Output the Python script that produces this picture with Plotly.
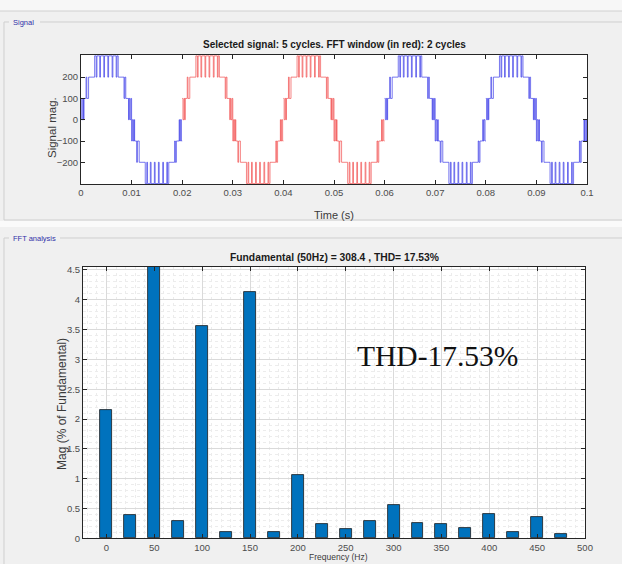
import plotly.graph_objects as go

# ---------------- data ----------------
# one positive half-cycle of the staircase (multilevel PWM) signal
# (time in ms from half-cycle start, level after the edge)
half_t_ms = [0.0, 0.15, 0.35, 0.5, 0.6, 1.0, 1.15, 1.5, 2.7,
             3.0, 3.15, 3.7, 3.85, 4.5, 4.65, 5.3, 5.45, 6.15, 6.3, 6.95, 7.1,
             7.35, 8.5, 8.65, 8.85, 9.4, 9.5, 9.65, 9.85]
half_level = [100, 0, 100, 0, 100, 200, 100, 200, 300,
              200, 300, 200, 300, 200, 300, 200, 300, 200, 300, 200, 300,
              200, 100, 200, 100, 0, 100, 0, 100]
period_ms = 20
cycle_colors = ["blue", "red", "red", "blue", "blue"]   # FFT window (2 cycles) in red

freq_hz = [0, 25, 50, 75, 100, 125, 150, 175, 200, 225, 250, 275, 300, 325, 350,
           375, 400, 425, 450, 475]
mag_pct = [2.15, 0.39, 100.0, 0.29, 3.56, 0.11, 4.13, 0.11, 1.06, 0.24, 0.16, 0.29,
           0.56, 0.25, 0.235, 0.18, 0.41, 0.11, 0.36, 0.075]

top_title = "Selected signal: 5 cycles. FFT window (in red): 2 cycles"
bot_title = "Fundamental (50Hz) = 308.4 , THD= 17.53%"
thd_text = "THD-17.53%"

time_ticks = [0, 0.01, 0.02, 0.03, 0.04, 0.05, 0.06, 0.07, 0.08, 0.09, 0.1]
time_tick_text = ["0", "0.01", "0.02", "0.03", "0.04", "0.05", "0.06", "0.07", "0.08", "0.09", "0.1"]
sig_ticks = [-200, -100, 0, 100, 200]
mag_ticks = [0, 0.5, 1, 1.5, 2, 2.5, 3, 3.5, 4, 4.5]
mag_tick_text = ["0", "0.5", "1", "1.5", "2", "2.5", "3", "3.5", "4", "4.5"]
freq_ticks = [0, 50, 100, 150, 200, 250, 300, 350, 400, 450, 500]

# ---------------- build figure ----------------
W, H = 622, 564
def px(x): return x / W
def py(y): return 1 - y / H

FONT = "Liberation Sans, Arial, sans-serif"
TICKC = "#4d4d4d"

fig = go.Figure()

col_map = {"blue": "rgba(40,40,230,0.7)", "red": "rgba(240,60,60,0.7)"}
series = {"blue": ([], []), "red": ([], [])}
for k, c in enumerate(cycle_colors):
    xs, ys = series[c]
    if xs:
        xs.append(None); ys.append(None)
    for h, sgn in ((0, 1), (1, -1)):
        for t, lv in zip(half_t_ms, half_level):
            xs.append((k * period_ms + h * period_ms / 2 + t) / 1000.0)
            ys.append(sgn * lv)
    xs.append((k + 1) * period_ms / 1000.0)
    ys.append(ys[-1] if k < len(cycle_colors) - 1 else 0)
for c in ("blue", "red"):
    xs, ys = series[c]
    fig.add_trace(go.Scatter(x=xs, y=ys, mode="lines", line=dict(color=col_map[c], width=0.9, shape="hv"),
                             connectgaps=False, showlegend=False, hoverinfo="skip",
                             xaxis="x", yaxis="y"))

fig.add_trace(go.Bar(x=freq_hz, y=mag_pct, width=12.5, marker=dict(color="#0072BD", line=dict(color="#1b1b1b", width=0.8)),
                     showlegend=False, xaxis="x2", yaxis="y2"))

axis_common = dict(showline=True, linecolor="#262626", linewidth=1, mirror="ticks", ticks="inside",
                   ticklen=4, tickcolor="#262626", zeroline=False, automargin=False,
                   tickfont=dict(family=FONT, size=9.5, color=TICKC))

fig.update_layout(
    width=W, height=H, margin=dict(l=0, r=0, t=0, b=0),
    paper_bgcolor="#f0f0f0", plot_bgcolor="white",
    bargap=0,
    xaxis=dict(domain=[px(81), px(587)], range=[0, 0.1], tickvals=time_ticks, ticktext=time_tick_text,
               showgrid=False, anchor="y", **axis_common),
    yaxis=dict(domain=[py(184), py(55)], range=[-302, 304], tickvals=sig_ticks, showgrid=False,
               anchor="x", **axis_common),
    xaxis2=dict(domain=[px(83), px(585)], range=[-24.5, 500], tickvals=freq_ticks, anchor="y2",
                showgrid=True, gridcolor="#dadada", gridwidth=1,
                minor=dict(dtick=10, tick0=0, showgrid=True, gridcolor="#ececec", griddash="dot",
                           gridwidth=0.8, ticks=""),
                **axis_common),
    yaxis2=dict(domain=[py(538.3), py(267)], range=[0, 4.55], tickvals=mag_ticks, ticktext=mag_tick_text,
                anchor="x2", showgrid=True, gridcolor="#dadada", gridwidth=1,
                minor=dict(dtick=0.1, tick0=0, showgrid=True, gridcolor="#ececec", griddash="dot",
                           gridwidth=0.8, ticks=""),
                **axis_common),
)

shapes = []
# top strip
shapes.append(dict(type="rect", xref="paper", yref="paper", x0=0, x1=1, y0=py(11), y1=1,
                   fillcolor="#f7f7f7", line=dict(width=0), layer="below"))
shapes.append(dict(type="line", xref="paper", yref="paper", x0=0, x1=1, y0=py(11), y1=py(11),
                   line=dict(color="#d0d0d0", width=1), layer="below"))
# panel separator strip
shapes.append(dict(type="rect", xref="paper", yref="paper", x0=0, x1=1, y0=py(227), y1=py(221),
                   fillcolor="#fafafa", line=dict(width=0), layer="below"))
# panel frames
for (ty, by, lx) in ((22, 220, 40), (238, 600, 60)):
    shapes.append(dict(type="line", xref="paper", yref="paper", x0=px(lx), x1=1, y0=py(ty), y1=py(ty),
                       line=dict(color="#cfcfcf", width=1), layer="below"))
    shapes.append(dict(type="line", xref="paper", yref="paper", x0=px(4), x1=px(9), y0=py(ty), y1=py(ty),
                       line=dict(color="#cfcfcf", width=1), layer="below"))
    shapes.append(dict(type="line", xref="paper", yref="paper", x0=px(4), x1=px(4), y0=py(ty), y1=py(by),
                       line=dict(color="#cfcfcf", width=1), layer="below"))
shapes.append(dict(type="line", xref="paper", yref="paper", x0=px(4), x1=1, y0=py(220), y1=py(220),
                   line=dict(color="#cfcfcf", width=1), layer="below"))
fig.update_layout(shapes=shapes)

ann = []
ann.append(dict(text="Signal", x=px(11), y=py(22), xref="paper", yref="paper", xanchor="left", yanchor="middle",
                showarrow=False, font=dict(family=FONT, size=7.5, color="#3030a8")))
ann.append(dict(text="FFT analysis", x=px(11), y=py(238), xref="paper", yref="paper", xanchor="left", yanchor="middle",
                showarrow=False, font=dict(family=FONT, size=7.5, color="#3030a8")))
ann.append(dict(text="<b>" + top_title + "</b>", x=px(334), y=py(45), xref="paper", yref="paper",
                xanchor="center", yanchor="middle", showarrow=False, font=dict(family=FONT, size=10, color="#1a1a1a")))
ann.append(dict(text="<b>" + bot_title + "</b>", x=px(335), y=py(258), xref="paper", yref="paper",
                xanchor="center", yanchor="middle", showarrow=False, font=dict(family=FONT, size=10.3, color="#1a1a1a")))
ann.append(dict(text="Time (s)", x=px(334), y=py(215), xref="paper", yref="paper",
                xanchor="center", yanchor="middle", showarrow=False, font=dict(family=FONT, size=11, color="#3a3a3a")))
ann.append(dict(text="Signal mag.", x=px(52), y=py(128), xref="paper", yref="paper", textangle=-90,
                xanchor="center", yanchor="middle", showarrow=False, font=dict(family=FONT, size=11.5, color="#3a3a3a")))
ann.append(dict(text="Mag (% of Fundamental)", x=px(62), y=py(404), xref="paper", yref="paper", textangle=-90,
                xanchor="center", yanchor="middle", showarrow=False, font=dict(family=FONT, size=12, color="#3a3a3a")))
ann.append(dict(text="Frequency (Hz)", x=px(338), y=0, xref="paper", yref="paper",
                xanchor="center", yanchor="bottom", showarrow=False, font=dict(family=FONT, size=8.5, color="#3a3a3a")))
ann.append(dict(text=thd_text, x=px(437), y=py(356), xref="paper", yref="paper",
                xanchor="center", yanchor="middle", showarrow=False,
                font=dict(family="Liberation Serif, Times New Roman, serif", size=29.5, color="#111111")))
fig.update_layout(annotations=ann)

fig.write_html("out.html", config={"displayModeBar": False},
               post_script="document.body.style.margin='0';document.body.style.overflow='hidden';")
